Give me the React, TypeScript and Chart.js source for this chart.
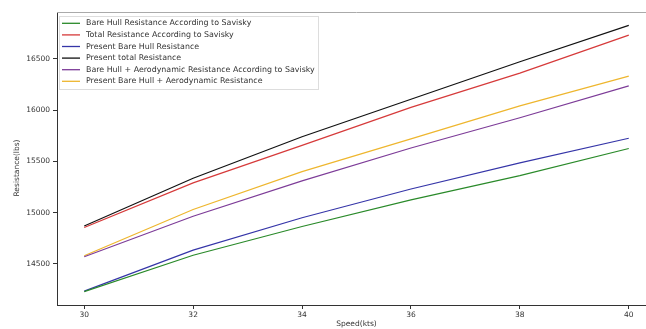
import React, { useEffect, useRef } from "react";
import { Chart, registerables } from "chart.js";

Chart.register(...registerables);

const speeds = [30, 32, 34, 36, 38, 40];
const xTicks = [30, 32, 34, 36, 38, 40];
const yTicks = [14500, 15000, 15500, 16000, 16500];

const bareHullSavisky = [14230, 14585, 14865, 15125, 15360, 15625];
const totalSavisky = [14855, 15290, 15655, 16025, 16360, 16730];
const presentBareHull = [14235, 14635, 14950, 15230, 15485, 15725];
const presentTotal = [14870, 15335, 15740, 16105, 16470, 16825];
const bareAeroSavisky = [14570, 14965, 15310, 15630, 15925, 16235];
const presentBareAero = [14580, 15030, 15400, 15718, 16040, 16330];

const seriesLabels = [
  "Bare Hull Resistance According to Savisky",
  "Total Resistance According to Savisky",
  "Present Bare Hull Resistance",
  "Present total Resistance",
  "Bare Hull + Aerodynamic Resistance According to Savisky",
  "Present Bare Hull + Aerodynamic Resistance",
];
const seriesColors = ["#2a8a2a", "#d63a3a", "#3535a8", "#111111", "#7d3c98", "#eeb62e"];
const seriesValues = [
  bareHullSavisky,
  totalSavisky,
  presentBareHull,
  presentTotal,
  bareAeroSavisky,
  presentBareAero,
];

const FONT = "'DejaVu Sans', sans-serif";

const overlayPlugin = {
  id: "overlay",
  afterDraw(chart: any) {
    const { ctx, chartArea } = chart;
    ctx.save();
    // top spine
    ctx.strokeStyle = "#aaaaaa";
    ctx.lineWidth = 1;
    ctx.beginPath();
    ctx.moveTo(chartArea.left, chartArea.top + 0.5);
    ctx.lineTo(chartArea.right, chartArea.top + 0.5);
    ctx.stroke();

    // axis titles
    ctx.fillStyle = "#333";
    ctx.font = `7.5px ${FONT}`;
    ctx.textAlign = "center";
    ctx.textBaseline = "middle";
    ctx.fillText("Speed(kts)", (chartArea.left + chartArea.right) / 2, 324);
    ctx.save();
    ctx.translate(17, 168);
    ctx.rotate(-Math.PI / 2);
    ctx.fillText("Resistance(lbs)", 0, 0);
    ctx.restore();

    // legend
    const bx = 59, by = 16, bw = 259, bh = 73;
    ctx.fillStyle = "rgba(255,255,255,0.85)";
    ctx.fillRect(bx, by, bw, bh);
    ctx.strokeStyle = "#dddddd";
    ctx.strokeRect(bx + 0.5, by + 0.5, bw, bh);
    ctx.textAlign = "left";
    ctx.font = `7.9px ${FONT}`;
    chart.data.datasets.forEach((ds: any, i: number) => {
      const y = 23.3 + i * 11.6;
      ctx.strokeStyle = ds.borderColor;
      ctx.lineWidth = 1.3;
      ctx.beginPath();
      ctx.moveTo(62, y);
      ctx.lineTo(80, y);
      ctx.stroke();
      ctx.fillStyle = "#333";
      ctx.fillText(ds.label, 86, y);
    });
    ctx.restore();
  },
};

export default function App() {
  const ref = useRef<HTMLCanvasElement>(null);
  useEffect(() => {
    document.body.style.margin = "0";
    const chart = new Chart(ref.current!, {
      type: "line",
      data: {
        datasets: seriesValues.map((vals, i) => ({
          label: seriesLabels[i],
          data: speeds.map((s, j) => ({ x: s, y: vals[j] })),
          borderColor: seriesColors[i],
          backgroundColor: seriesColors[i],
          borderWidth: 1.2,
          pointRadius: 0,
          tension: 0,
          fill: false,
        })),
      },
      options: {
        animation: false,
        responsive: false,
        devicePixelRatio: 1,
        layout: { padding: { top: 12, right: 4, left: 0, bottom: 0 } },
        plugins: { legend: { display: false }, tooltip: { enabled: false } },
        scales: {
          x: {
            type: "linear",
            min: 29.5,
            max: 40.5,
            afterBuildTicks: (s: any) => {
              s.ticks = xTicks.map((v) => ({ value: v }));
            },
            afterFit: (s: any) => {
              s.height = 24;
            },
            grid: { drawOnChartArea: false, drawTicks: true, tickLength: 4, color: "#333" },
            border: { display: true, color: "#333", width: 1 },
            ticks: { color: "#333", font: { size: 7.5, family: FONT }, padding: 2, maxRotation: 0 },
          },
          y: {
            type: "linear",
            min: 14100,
            max: 16955,
            afterBuildTicks: (s: any) => {
              s.ticks = yTicks.map((v) => ({ value: v }));
            },
            afterFit: (s: any) => {
              s.width = 57;
            },
            grid: { drawOnChartArea: false, drawTicks: true, tickLength: 4, color: "#333" },
            border: { display: true, color: "#333", width: 1 },
            ticks: {
              color: "#333",
              font: { size: 7.5, family: FONT },
              padding: 3,
              callback: (v: any) => String(v),
            },
          },
        },
      },
      plugins: [overlayPlugin],
    });
    return () => chart.destroy();
  }, []);
  return (
    <div style={{ position: "fixed", left: 0, top: 0, width: 646, height: 329, overflow: "hidden", background: "#fff" }}>
      <canvas ref={ref} width={660} height={329} style={{ width: 660, height: 329, display: "block" }} />
    </div>
  );
}
